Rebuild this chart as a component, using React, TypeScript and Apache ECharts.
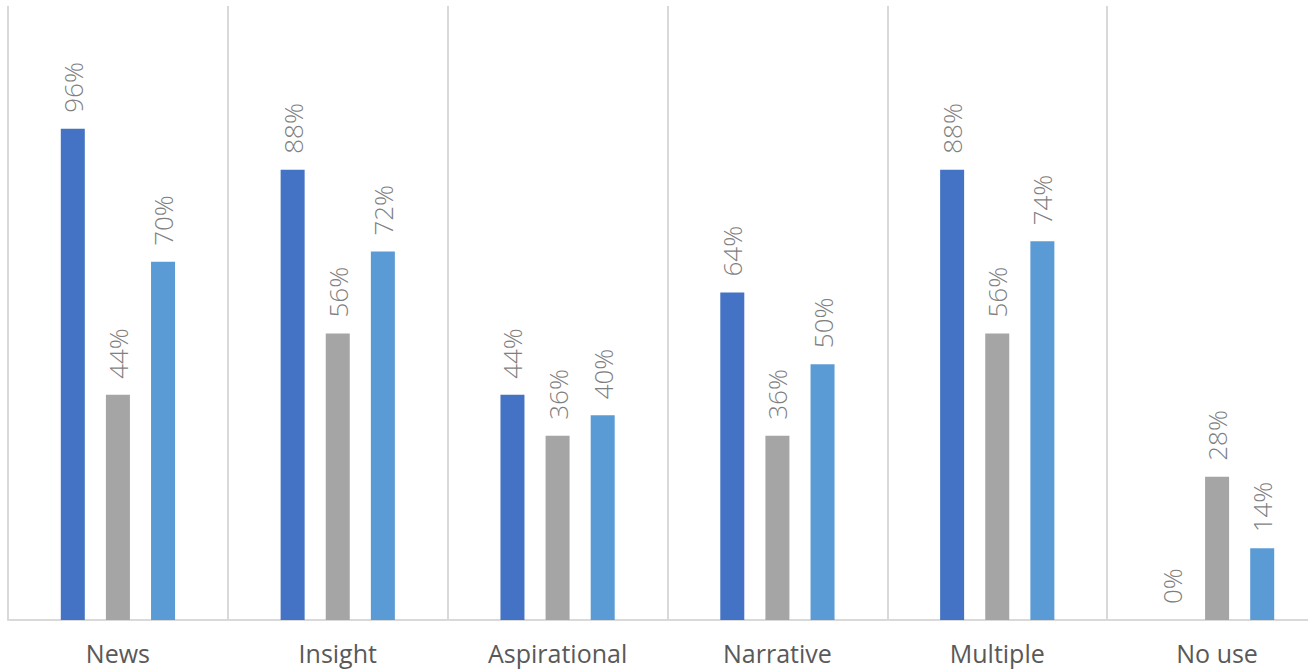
import React, { useEffect, useRef } from "react";
import * as echarts from "echarts";

const categories = ["News", "Insight", "Aspirational", "Narrative", "Multiple", "No use"];
const seriesA = [96, 88, 44, 64, 88, 0];
const seriesB = [44, 56, 36, 36, 56, 28];
const seriesC = [70, 72, 40, 50, 74, 14];
const colors = ["#4472c4", "#a5a5a5", "#5b9bd5"];

export default function App() {
  const ref = useRef<HTMLDivElement>(null);
  useEffect(() => {
    document.body.style.margin = "0";
    const chart = echarts.init(ref.current!, null, { renderer: "svg" });
    const label = {
      show: true,
      position: "top",
      rotate: 90,
      align: "left",
      verticalAlign: "middle",
      distance: 16,
      formatter: "{c}%",
      color: "#7f7f7f",
      fontSize: 26,
      fontWeight: 300,
      fontFamily: "Open Sans",
    };
    const mk = (name: string, data: number[], i: number) => ({
      name,
      type: "bar",
      data,
      barWidth: 24,
      barGap: "88%",
      itemStyle: { color: colors[i] },
      label,
    });
    chart.setOption({
      animation: false,
      grid: {
        left: 8,
        top: 6,
        bottom: 50,
        right: -19,
        containLabel: false,
        outerBoundsMode: "none",
      },
      xAxis: {
        type: "category",
        data: categories,
        axisLine: { show: true, lineStyle: { color: "#d9d9d9", width: 2 } },
        axisTick: { show: false },
        splitLine: { show: true, lineStyle: { color: "#d9d9d9", width: 2 } },
        axisLabel: {
          color: "#595959",
          fontSize: 25,
          fontFamily: "Open Sans",
          margin: 20,
        },
      },
      yAxis: {
        type: "value",
        min: 0,
        max: 120,
        show: false,
        splitLine: { show: false },
      },
      series: [mk("A", seriesA, 0), mk("B", seriesB, 1), mk("C", seriesC, 2)],
    });
    return () => chart.dispose();
  }, []);
  return (
    <div
      ref={ref}
      style={{ position: "absolute", left: 0, top: 0, width: 1308, height: 670 }}
    />
  );
}
